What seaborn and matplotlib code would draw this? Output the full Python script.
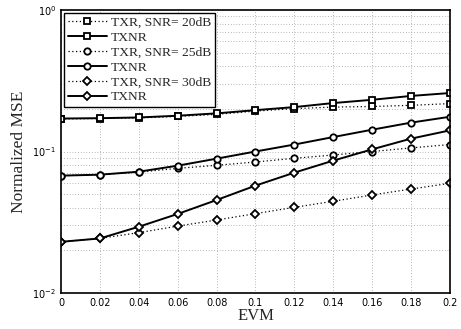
import numpy as np
import pandas as pd
import matplotlib
matplotlib.use("Agg")
import matplotlib.pyplot as plt
import seaborn as sns
from matplotlib.ticker import LogLocator, FixedLocator

evm = [0.0, 0.02, 0.04, 0.06, 0.08, 0.1, 0.12, 0.14, 0.16, 0.18, 0.2]
txr_20 = [0.170, 0.171, 0.173, 0.177, 0.183, 0.193, 0.201, 0.206, 0.208, 0.212, 0.218]
txnr_20 = [0.171, 0.172, 0.174, 0.179, 0.186, 0.196, 0.206, 0.220, 0.232, 0.247, 0.259]
txr_25 = [0.0675, 0.0686, 0.0715, 0.0760, 0.0799, 0.0843, 0.0895, 0.0945, 0.1000, 0.1060, 0.1120]
txnr_25 = [0.0675, 0.0686, 0.0720, 0.0794, 0.0890, 0.1000, 0.1120, 0.1265, 0.1426, 0.1600, 0.1760]
txr_30 = [0.0230, 0.0243, 0.0267, 0.0297, 0.0328, 0.0364, 0.0403, 0.0445, 0.0493, 0.0543, 0.0596]
txnr_30 = [0.0230, 0.0243, 0.0294, 0.0362, 0.0454, 0.0574, 0.0709, 0.0862, 0.1036, 0.1233, 0.1410]

labels = ["TXR, SNR= 20dB", "TXNR", "TXR, SNR= 25dB", "TXNR", "TXR, SNR= 30dB", "TXNR"]
series = [txr_20, txnr_20, txr_25, txnr_25, txr_30, txnr_30]
markers = ["s", "s", "o", "o", "D", "D"]
dotted = [True, False, True, False, True, False]
xticks = [0, 0.02, 0.04, 0.06, 0.08, 0.1, 0.12, 0.14, 0.16, 0.18, 0.2]
xticklabels = ["0", "0.02", "0.04", "0.06", "0.08", "0.1", "0.12", "0.14", "0.16", "0.18", "0.2"]

sns.set_style("white")
plt.rcParams["mathtext.fontset"] = "dejavusans"

fig = plt.figure(figsize=(4.61, 3.29), dpi=100)
ax = fig.add_axes([0.1323, 0.1094, 0.8437, 0.8602])

for i, (vals, lab, mk, dt) in enumerate(zip(series, labels, markers, dotted)):
    df = pd.DataFrame({"EVM": evm, "MSE": vals})
    sns.lineplot(data=df, x="EVM", y="MSE", ax=ax, color="black",
                 linestyle=(0, (1, 2)) if dt else "-",
                 linewidth=0.9 if dt else 1.4,
                 marker=mk, markersize=4.6 if mk != "D" else 4.3,
                 markerfacecolor="white", markeredgecolor="black",
                 markeredgewidth=1.3, label=lab)

ax.set_yscale("log")
ax.set_xlim(0, 0.2)
ax.set_ylim(1e-2, 1)
ax.xaxis.set_major_locator(FixedLocator(xticks))
ax.set_xticklabels(xticklabels)
ax.yaxis.set_major_locator(LogLocator(base=10, numticks=5))
ax.yaxis.set_minor_locator(LogLocator(base=10, subs=np.arange(2, 10), numticks=20))
ax.grid(True, which="major", axis="both", linestyle=(0, (1, 3)), color="#777777", linewidth=0.5)
ax.grid(True, which="minor", axis="y", linestyle=(0, (1, 3)), color="#777777", linewidth=0.5)
ax.tick_params(axis="both", which="both", direction="in", labelsize=7, colors="black")
ax.tick_params(which="major", length=4)
ax.tick_params(which="minor", length=2)
for s in ax.spines.values():
    s.set_color("black")
    s.set_linewidth(1.2)

ax.set_xlabel("EVM", fontfamily="Liberation Serif", fontsize=12, labelpad=0)
ax.set_ylabel("Normalized MSE", fontfamily="Liberation Serif", fontsize=12.5, labelpad=4)

leg = ax.legend(loc="upper left", prop={"family": "Liberation Serif", "size": 9.7},
                handlelength=2.9, handletextpad=0.3, borderpad=0.3, labelspacing=0.18,
                fancybox=False, framealpha=1, edgecolor="black", borderaxespad=0.2)
leg.get_frame().set_linewidth(1.0)

fig.savefig("out.png", dpi=100)
